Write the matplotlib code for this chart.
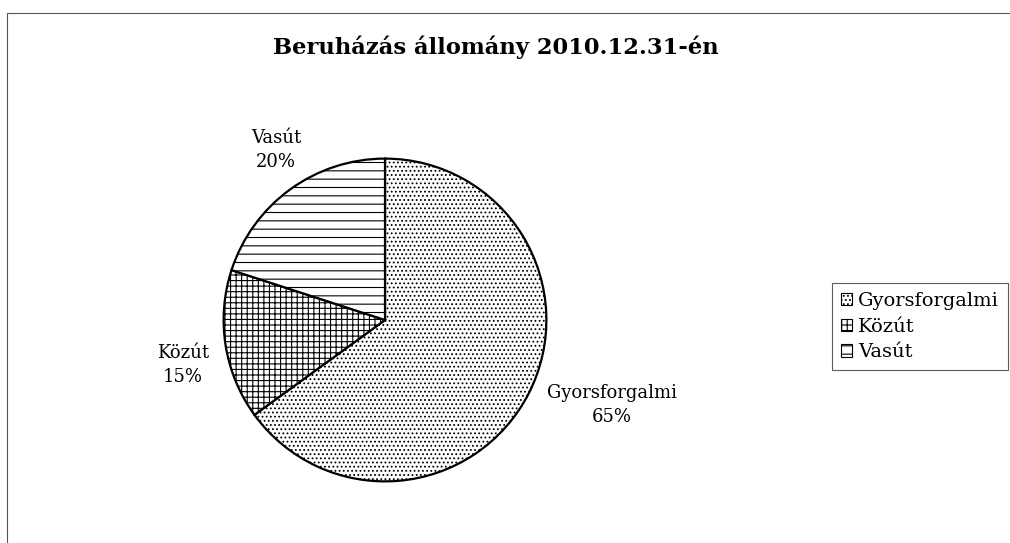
import matplotlib
matplotlib.use("Agg")
import matplotlib.pyplot as plt
from matplotlib.patches import Patch, Rectangle

categories = ["Gyorsforgalmi", "Közút", "Vasút"]
shares = [65, 15, 20]
hatches = ["....", "+++", "--"]
title = "Beruházás állomány 2010.12.31-én"

plt.rcParams["font.family"] = ["DejaVu Serif"]
plt.rcParams["hatch.linewidth"] = 0.8

fig = plt.figure(figsize=(10.10, 5.43), dpi=100)

# outer chart frame (left/top visible in the scan)
fig.patches.append(Rectangle((7 / 1010, -0.01), 1.02, 1 - 13 / 543 + 0.01,
                             transform=fig.transFigure, fill=False,
                             edgecolor="#555555", linewidth=0.8))

# pie axes: centre (385, 320) px, radius 163 px
r = 163
ax = fig.add_axes([(385 - r) / 1010, 1 - (320 + r) / 543, 2 * r / 1010, 2 * r / 543])
wedges, _ = ax.pie(shares, startangle=90, counterclock=False,
                   colors=["white"] * 3,
                   wedgeprops=dict(edgecolor="black", linewidth=1.6))
for w, h in zip(wedges, hatches):
    w.set_hatch(h)
ax.set_xlim(-1.01, 1.01)
ax.set_ylim(-1.01, 1.01)
ax.set_aspect("equal")

# data labels
label_pos = [(612, 405), (183, 365), (276, 150)]
for (x, y), name, val in zip(label_pos, categories, shares):
    fig.text(x / 1010, 1 - y / 543, f"{name}\n{val}%", ha="center", va="center",
             fontsize=13, linespacing=1.45)

fig.text(496 / 1010, 1 - 47 / 543, title, ha="center", va="center",
         fontsize=16.3, fontweight="bold")

handles = [Patch(facecolor="white", edgecolor="black", hatch=h, linewidth=0.8)
           for h in hatches]
leg = fig.legend(handles, categories, loc="upper left",
                 bbox_to_anchor=(832 / 1010, 1 - 283 / 543),
                 fontsize=14, frameon=True, fancybox=False,
                 handlelength=0.6, handleheight=0.6, handletextpad=0.3,
                 labelspacing=0.4, borderpad=0.45, borderaxespad=0)
leg.get_frame().set_edgecolor("#333333")
leg.get_frame().set_linewidth(0.8)

fig.savefig("out.png", dpi=100)
